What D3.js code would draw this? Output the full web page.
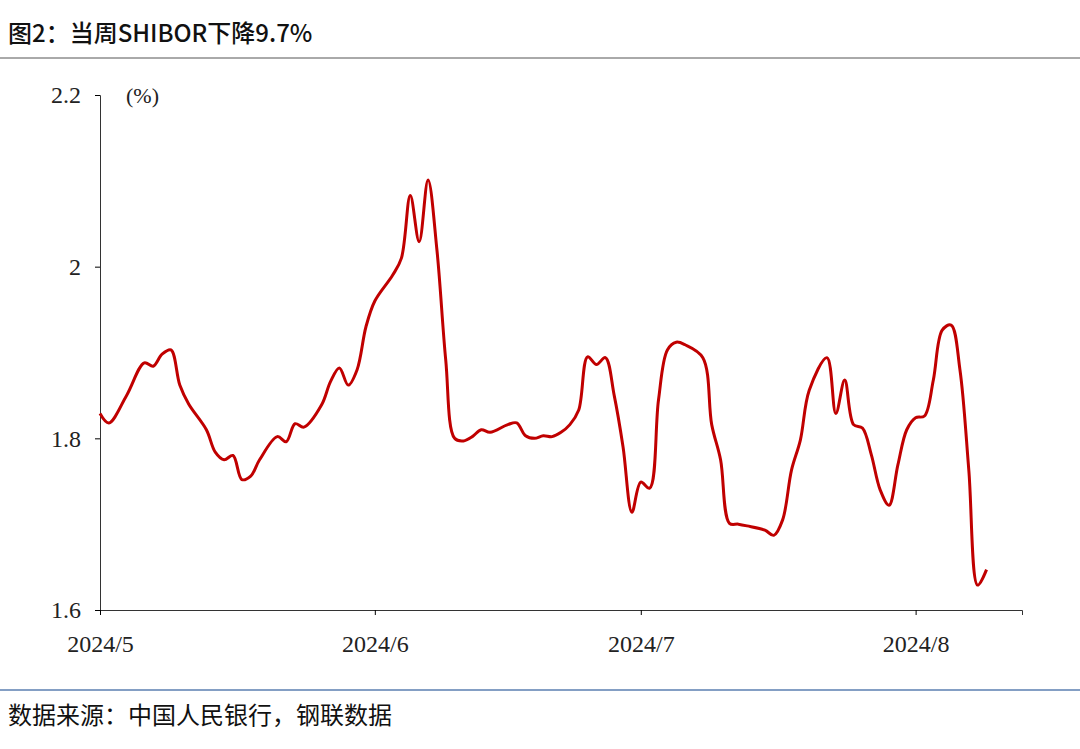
<!DOCTYPE html>
<html><head><meta charset="utf-8">
<script src="https://cdn.jsdelivr.net/npm/d3@7"></script>
<style>body{margin:0;background:#fff}</style></head>
<body><svg id="c" width="1080" height="749"></svg>
<script>
const dates = ["2024-05-01","2024-05-02","2024-05-04","2024-05-06","2024-05-07","2024-05-08","2024-05-09","2024-05-10","2024-05-11","2024-05-13","2024-05-14","2024-05-15","2024-05-16","2024-05-17","2024-05-18","2024-05-19","2024-05-21","2024-05-22","2024-05-23","2024-05-24","2024-05-26","2024-05-27","2024-05-28","2024-05-29","2024-05-30","2024-05-31",
"2024-06-01","2024-06-03","2024-06-04","2024-06-05","2024-06-06","2024-06-07","2024-06-08","2024-06-09","2024-06-10","2024-06-11","2024-06-12","2024-06-13","2024-06-14","2024-06-16","2024-06-17","2024-06-18","2024-06-19","2024-06-20","2024-06-21","2024-06-22","2024-06-23","2024-06-24","2024-06-25","2024-06-26","2024-06-27","2024-06-28","2024-06-29","2024-06-30",
"2024-07-01","2024-07-02","2024-07-03","2024-07-04","2024-07-05","2024-07-06","2024-07-08","2024-07-09","2024-07-10","2024-07-11","2024-07-12","2024-07-13","2024-07-15","2024-07-16","2024-07-17","2024-07-18","2024-07-19","2024-07-20","2024-07-22","2024-07-23","2024-07-24","2024-07-25","2024-07-26","2024-07-27","2024-07-28","2024-07-29","2024-07-30","2024-07-31",
"2024-08-01","2024-08-02","2024-08-03","2024-08-04","2024-08-05","2024-08-06","2024-08-07","2024-08-08","2024-08-09"];
const values = [1.829,1.818,1.850,1.888,1.884,1.898,1.903,1.862,1.840,1.810,1.784,1.775,1.780,1.752,1.756,1.775,1.802,1.796,1.817,1.813,1.839,1.866,1.882,1.862,1.880,1.930,
1.960,1.990,2.010,2.083,2.029,2.101,2.020,1.891,1.800,1.797,1.802,1.810,1.807,1.816,1.818,1.803,1.800,1.803,1.802,1.807,1.816,1.833,1.895,1.886,1.894,1.850,1.790,1.714,
1.749,1.742,1.845,1.903,1.912,1.909,1.894,1.816,1.775,1.701,1.700,1.698,1.693,1.687,1.705,1.763,1.798,1.856,1.894,1.829,1.868,1.816,1.812,1.781,1.740,1.722,1.769,1.810,
1.824,1.826,1.868,1.926,1.932,1.880,1.763,1.629,1.647];
const yTicks = [1.6,1.8,2,2.2];
const xTicks = ["2024-05-01","2024-06-01","2024-07-01","2024-08-01"];
const xLabels = ["2024/5","2024/6","2024/7","2024/8"];

const svg = d3.select("#c");
const p = d3.timeParse("%Y-%m-%d");
const data = dates.map((d,i)=>({d:p(d),v:values[i]}));
const x = d3.scaleTime().domain([p("2024-05-01"), p("2024-08-13")]).range([100,1022]);
const y = d3.scaleLinear().domain([1.6,2.2]).range([610,95]);

svg.append("text").attr("x",8).attr("y",42).attr("font-family","Noto Sans CJK SC").attr("font-size",24).attr("font-weight",500).attr("fill","#111").text("图2：当周SHIBOR下降9.7%");
svg.append("line").attr("x1",0).attr("x2",1080).attr("y1",58).attr("y2",58).attr("stroke","#555").attr("stroke-width",1);
svg.append("line").attr("x1",0).attr("x2",1080).attr("y1",690).attr("y2",690).attr("stroke","#5b7fb0").attr("stroke-width",1.5);
svg.append("text").attr("x",8).attr("y",724).attr("font-family","Noto Sans CJK SC").attr("font-size",24).attr("fill","#111").text("数据来源：中国人民银行，钢联数据");

const ya = svg.append("g").attr("transform","translate(100,0)")
  .call(d3.axisLeft(y).tickValues(yTicks).tickFormat(d=>d3.format("")(d)).tickSize(5).tickPadding(14));
ya.select(".domain").attr("stroke","#333");
ya.selectAll("text").attr("font-family","Liberation Serif").attr("font-size",24).attr("fill","#222");
const xa = svg.append("g").attr("transform","translate(0,610)")
  .call(d3.axisBottom(x).tickValues(xTicks.map(p)).tickFormat((d,i)=>xLabels[i]).tickSize(5).tickPadding(20));
xa.select(".domain").attr("stroke","#333");
xa.selectAll("text").attr("font-family","Liberation Serif").attr("font-size",24).attr("fill","#222");
svg.append("text").attr("x",126).attr("y",103).attr("font-family","Liberation Serif").attr("font-size",22).attr("fill","#222").text("(%)");

svg.append("path").datum(data).attr("fill","none").attr("stroke","#c00000").attr("stroke-width",3)
  .attr("d", d3.line().x(d=>x(d.d)).y(d=>y(d.v)).curve(d3.curveCatmullRom.alpha(0.5)));
</script></body></html>
